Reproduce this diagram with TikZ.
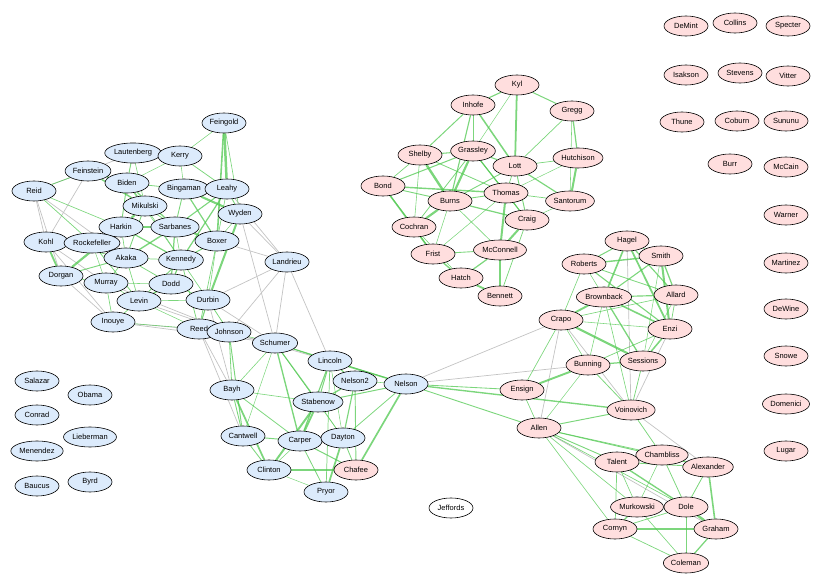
\documentclass[tikz,border=0pt]{standalone}
\usepackage{fontspec}
\setmainfont{Liberation Sans}
\usetikzlibrary{shapes.geometric,backgrounds}
\definecolor{dfill}{RGB}{220,235,252}
\definecolor{rfill}{RGB}{255,222,222}
\definecolor{eg}{RGB}{80,200,80}
\definecolor{egr}{RGB}{195,195,195}
\tikzset{
 sn/.style={ellipse,draw=black,line width=0.6pt,inner xsep=1pt,inner ysep=1pt,minimum width=44pt,minimum height=20pt,font=\fontsize{7.5}{8.5}\selectfont},
 d/.style={sn,fill=dfill}, r/.style={sn,fill=rfill}, w/.style={sn,fill=white},
 ge/.style={draw=eg,opacity=0.75}, gy/.style={draw=egr}
}
\begin{document}
\begin{tikzpicture}[x=1pt,y=-1pt]
\useasboundingbox (0,0) rectangle (815,577);
\foreach \n/\x/\y in {Feingold/224/123,Lautenberg/133/153,Kerry/180/156,Feinstein/88/171,Biden/127/183,Bingaman/184/189,Leahy/227/189,Reid/34/191,Mikulski/145/206,Wyden/240/214,Harkin/121/227,Sarbanes/175/227,Kohl/46/242,Rockefeller/92/243,Boxer/217/241,Akaka/126/258,Kennedy/181/260,Landrieu/287/262,Dorgan/61/276,Murray/106/283,Dodd/171/284,Levin/139/301,Durbin/208/300,Inouye/113/322,Reed/199/329,Johnson/229/332,Schumer/275/343,Lincoln/330/361,Nelson2/355/381,Nelson/406/384,Bayh/232/390,Stabenow/318/402,Cantwell/243/436,Carper/300/441,Dayton/343/438,Clinton/269/470,Pryor/326/492,Salazar/37/381,Obama/90/395,Conrad/37/415,Lieberman/90/437,Menendez/37/451,Baucus/37/486,Byrd/90/482}
  \node[d] (\n) at (\x,\y) {\n};
\node[w] (Jeffords) at (451,508) {Jeffords};
\foreach \n/\x/\y in {Chafee/356/470,DeMint/686/26,Collins/735/23,Specter/788/26,Isakson/686/75,Stevens/740/73,Vitter/788/76,Thune/682/122,Coburn/737/121,Sununu/786/121,Burr/730/164,McCain/786/167,Warner/786/215,Martinez/786/263,DeWine/786/309,Snowe/786/356,Domenici/786/404,Lugar/786/451,Kyl/517/85,Inhofe/473/105,Gregg/572/111,Shelby/420/155,Grassley/473/151,Lott/515/166,Hutchison/578/158,Bond/383/186,Burns/450/201,Thomas/506/193,Santorum/570/201,Craig/527/220,Cochran/414/227,Frist/433/254,McConnell/500/250,Hatch/461/278,Bennett/500/296,Hagel/627/241,Smith/661/256,Roberts/584/264,Brownback/604/297,Allard/676/295,Crapo/561/320,Enzi/670/329,Bunning/588/365,Sessions/643/361,Ensign/522/390,Voinovich/631/410,Allen/539/428,Chambliss/662/455,Talent/617/462,Alexander/708/467,Murkowski/637/507,Dole/686/507,Graham/716/529,Cornyn/615/529,Coleman/686/563}
  \node[r] (\n) at (\x,\y) {\n};
\begin{scope}[on background layer]
\pgfmathsetseed{7}
\foreach \a/\b in {Reid/Kohl,Reid/Dorgan,Feinstein/Kohl,Kohl/Murray,Dorgan/Inouye,Kohl/Inouye,Landrieu/Wyden,Landrieu/Boxer,Landrieu/Durbin,Landrieu/Schumer,Landrieu/Lincoln,Landrieu/Johnson,Landrieu/Leahy,Wyden/Schumer,Inouye/Johnson,Reed/Schumer,Durbin/Schumer,Johnson/Lincoln,Durbin/Bayh,Reed/Bayh,Levin/Johnson,Reed/Cantwell,Inouye/Schumer,Murray/Johnson,Feinstein/Reid,Reid/Akaka,Lautenberg/Feinstein,Nelson/Crapo,Hagel/Voinovich,Enzi/Voinovich,Allen/Graham,Voinovich/Alexander,Crapo/Voinovich,Nelson/Bunning,Allen/Crapo}
  \draw[gy,line width=0.7pt] (\a) -- (\b);
\foreach \a/\b in {Reid/Feinstein,Reid/Harkin,Reid/Rockefeller,Feinstein/Biden,Feinstein/Mikulski,Lautenberg/Biden,Lautenberg/Kerry,Lautenberg/Mikulski,Kerry/Bingaman,Kerry/Leahy,Kerry/Biden,Biden/Bingaman,Biden/Mikulski,Biden/Sarbanes,Biden/Harkin,Bingaman/Leahy,Bingaman/Sarbanes,Bingaman/Wyden,Leahy/Wyden,Leahy/Boxer,Leahy/Sarbanes,Feingold/Leahy,Feingold/Boxer,Feingold/Wyden,Feingold/Kerry,Mikulski/Sarbanes,Mikulski/Harkin,Mikulski/Akaka,Harkin/Akaka,Harkin/Rockefeller,Harkin/Sarbanes,Harkin/Kennedy,Sarbanes/Kennedy,Sarbanes/Boxer,Sarbanes/Akaka,Sarbanes/Dodd,Wyden/Boxer,Boxer/Kennedy,Boxer/Durbin,Kohl/Rockefeller,Kohl/Dorgan,Kohl/Akaka,Rockefeller/Akaka,Rockefeller/Murray,Akaka/Kennedy,Akaka/Murray,Akaka/Levin,Akaka/Dodd,Kennedy/Dodd,Kennedy/Durbin,Kennedy/Levin,Dorgan/Murray,Dorgan/Akaka,Murray/Levin,Murray/Inouye,Murray/Dodd,Dodd/Levin,Dodd/Durbin,Levin/Durbin,Levin/Inouye,Levin/Reed,Durbin/Reed,Durbin/Johnson,Reed/Johnson,Inouye/Reed,Kennedy/Reed,Boxer/Reed,Harkin/Dorgan,Mikulski/Kennedy,Biden/Kennedy,Rockefeller/Levin,Wyden/Durbin,Leahy/Kennedy,Bingaman/Boxer,
 Schumer/Lincoln,Schumer/Bayh,Schumer/Stabenow,Schumer/Carper,Schumer/Cantwell,Schumer/Johnson,Johnson/Bayh,Lincoln/Nelson2,Lincoln/Stabenow,Lincoln/Carper,Lincoln/Dayton,Lincoln/Pryor,Nelson2/Stabenow,Nelson2/Dayton,Nelson2/Nelson,Nelson2/Chafee,Bayh/Stabenow,Bayh/Cantwell,Bayh/Carper,Bayh/Clinton,Stabenow/Carper,Stabenow/Dayton,Stabenow/Clinton,Cantwell/Carper,Cantwell/Clinton,Carper/Dayton,Carper/Clinton,Carper/Pryor,Carper/Chafee,Dayton/Chafee,Dayton/Pryor,Clinton/Pryor,Clinton/Chafee,Nelson/Dayton,Nelson/Stabenow,Nelson/Lincoln,Nelson/Chafee,Schumer/Nelson,Johnson/Cantwell,Schumer/Dayton,
 Kyl/Inhofe,Kyl/Gregg,Kyl/Lott,Kyl/Grassley,Inhofe/Grassley,Inhofe/Shelby,Inhofe/Lott,Inhofe/Burns,Gregg/Lott,Gregg/Santorum,Gregg/Hutchison,Shelby/Grassley,Shelby/Bond,Shelby/Burns,Shelby/Cochran,Grassley/Lott,Grassley/Burns,Grassley/Thomas,Grassley/Bond,Grassley/Craig,Lott/Thomas,Lott/Hutchison,Lott/Santorum,Lott/Craig,Lott/Burns,Hutchison/Thomas,Hutchison/Santorum,Bond/Burns,Bond/Cochran,Bond/Frist,Burns/Thomas,Burns/Cochran,Burns/Frist,Burns/McConnell,Burns/Craig,Thomas/Craig,Thomas/Santorum,Thomas/McConnell,Thomas/Frist,Santorum/Craig,Craig/McConnell,Craig/Bennett,Cochran/Frist,Cochran/Hatch,Frist/McConnell,Frist/Hatch,McConnell/Hatch,McConnell/Bennett,Hatch/Bennett,Shelby/Thomas,Grassley/Cochran,Bond/Thomas,
 Hagel/Smith,Hagel/Roberts,Hagel/Brownback,Hagel/Allard,Hagel/Enzi,Smith/Allard,Smith/Brownback,Smith/Enzi,Smith/Roberts,Roberts/Brownback,Roberts/Crapo,Roberts/Enzi,Roberts/Allard,Brownback/Crapo,Brownback/Allard,Brownback/Enzi,Brownback/Sessions,Brownback/Bunning,Allard/Enzi,Allard/Crapo,Crapo/Enzi,Crapo/Bunning,Crapo/Sessions,Crapo/Ensign,Enzi/Sessions,Enzi/Bunning,Bunning/Sessions,Bunning/Voinovich,Sessions/Voinovich,Ensign/Allen,Ensign/Bunning,Allen/Voinovich,Allen/Bunning,Smith/Sessions,Allard/Sessions,Brownback/Voinovich,
 Allen/Talent,Allen/Chambliss,Allen/Alexander,Allen/Murkowski,Allen/Cornyn,Allen/Dole,Chambliss/Talent,Chambliss/Alexander,Chambliss/Dole,Chambliss/Murkowski,Talent/Murkowski,Talent/Dole,Talent/Alexander,Talent/Cornyn,Alexander/Dole,Alexander/Graham,Murkowski/Dole,Murkowski/Cornyn,Murkowski/Coleman,Dole/Graham,Dole/Cornyn,Dole/Coleman,Graham/Cornyn,Graham/Coleman,Cornyn/Coleman,Voinovich/Chambliss,
 Nelson/Ensign,Nelson/Allen,Nelson/Voinovich}
 {\pgfmathsetmacro{\lw}{0.5+2.2*rnd*rnd}
  \draw[ge,line width=\lw pt] (\a) -- (\b);}
\end{scope}
\end{tikzpicture}
\end{document}
